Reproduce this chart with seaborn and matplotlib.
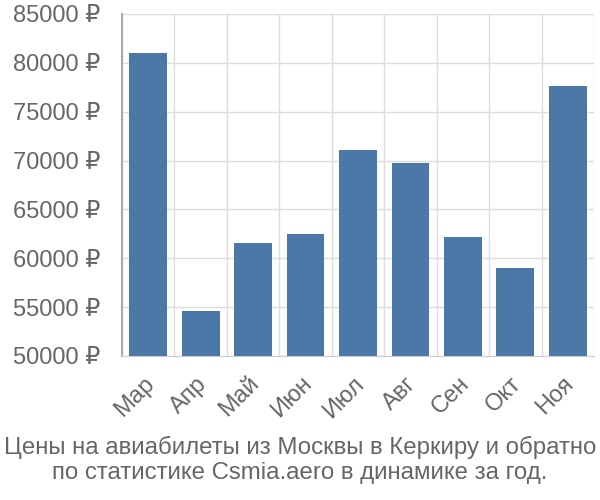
import matplotlib
matplotlib.use("Agg")
import matplotlib.pyplot as plt
import matplotlib.transforms as mtransforms
import seaborn as sns
import pandas as pd

months = ["Мар", "Апр", "Май", "Июн", "Июл", "Авг", "Сен", "Окт", "Ноя"]
prices = [81000, 54650, 61550, 62500, 71100, 69750, 62200, 59050, 77650]
yticks = [50000, 55000, 60000, 65000, 70000, 75000, 80000, 85000]
title_lines = ["Цены на авиабилеты из Москвы в Керкиру и обратно",
               "по статистике Csmia.aero в динамике за год."]

sns.set_style("white")
plt.rcParams['font.family'] = ['Liberation Sans', 'DejaVu Sans']

text_color = "#666666"
grid_color = "#dddddd"
PX = 72 / 100  # points per pixel

df = pd.DataFrame({"month": months, "price": prices})

fig = plt.figure(figsize=(6, 5), dpi=100)
ax = fig.add_axes([122/600, 1-356/500, (594-122)/600, (356-14)/500])

sns.barplot(data=df, x="month", y="price", color="#4c78a8", saturation=1,
            width=0.72, ax=ax, zorder=3, linewidth=0)

ax.set_ylim(50000, 85000)
ax.set_xlim(-0.5, len(months)-0.5)
ax.set_yticks(yticks)
ax.set_yticklabels([f"{v} ₽" for v in yticks])
ax.set_xticks([i - 0.5 for i in range(len(months)+1)], minor=True)
ax.set_xticks(range(len(months)))
ax.set_xticklabels(months, rotation=45, ha="right", rotation_mode="anchor")

ax.grid(axis="y", color=grid_color, linewidth=1, zorder=0)
ax.grid(axis="x", which="minor", color=grid_color, linewidth=1, zorder=0)
ax.tick_params(axis="y", length=20*PX, color=grid_color, labelsize=17,
               labelcolor=text_color, pad=2*PX, width=1)
ax.tick_params(axis="x", which="major", length=0, labelsize=17,
               labelcolor=text_color, pad=12)
ax.tick_params(axis="x", which="minor", length=20*PX, color=grid_color, width=1)

offset = mtransforms.ScaledTranslation(-5/100, 0, fig.dpi_scale_trans)
for lbl in ax.get_xticklabels():
    lbl.set_transform(lbl.get_transform() + offset)

for s in ["top", "right"]:
    ax.spines[s].set_visible(False)
ax.spines["bottom"].set_color("#cccccc")
ax.spines["left"].set_color("#aaaaaa")
ax.spines["left"].set_linewidth(1.5)
ax.set_xlabel("")
ax.set_ylabel("")

fig.text(0.5, 1-447/500, title_lines[0], ha="center", va="center",
         fontsize=17.3, color=text_color)
fig.text(0.5, 1-473/500, title_lines[1], ha="center", va="center",
         fontsize=17.3, color=text_color)

fig.savefig("out.png", dpi=100)
